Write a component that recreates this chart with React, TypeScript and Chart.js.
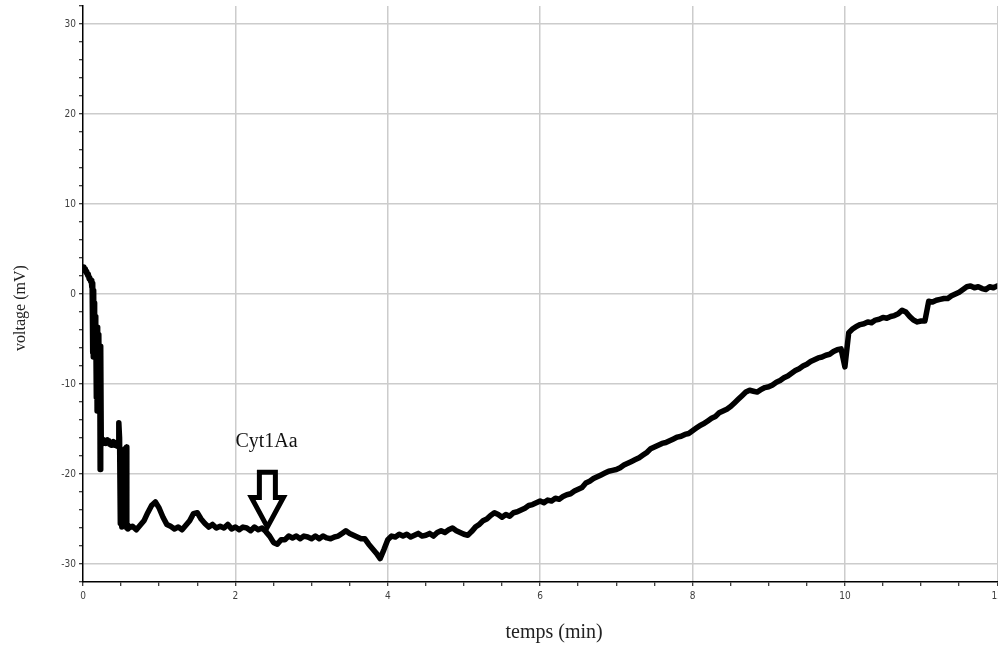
import { useEffect, useRef } from "react";
import { Chart, registerables } from "chart.js";

Chart.register(...registerables);

// Early transient right after the start of the recording (irregular sampling, minutes / mV)
const transientTimes = [
  0.0, 0.01, 0.02, 0.03, 0.04, 0.05, 0.06, 0.07, 0.08, 0.09,
  0.1, 0.11, 0.115, 0.12, 0.125, 0.13, 0.135, 0.14, 0.145, 0.15,
  0.155, 0.16, 0.165, 0.17, 0.175, 0.18, 0.185, 0.19, 0.195, 0.2,
  0.205, 0.21, 0.215, 0.22, 0.225, 0.23, 0.235, 0.24, 0.25, 0.26,
  0.27, 0.28, 0.29, 0.3, 0.31, 0.32, 0.33, 0.34, 0.35, 0.36,
  0.37, 0.38, 0.39, 0.4, 0.41, 0.42, 0.43, 0.44, 0.45, 0.46,
  0.47, 0.48, 0.49, 0.5, 0.51, 0.52, 0.53, 0.54, 0.55, 0.56,
  0.57, 0.575, 0.58, 0.59,
];
const transientVolts = [
  3.0, 2.8, 2.6, 2.8, 2.4, 2.5, 2.1, 2.2, 1.7, 1.8,
  1.4, 1.5, 0.8, 1.0, -6.5, 1.2, -7.0, 0.4, -6.8, -1.0,
  -7.0, -2.5, -6.6, -3.8, -11.5, -4.2, -13.0, -3.7, -12.6, -5.5,
  -13.0, -4.5, -12.2, -7.5, -19.5, -12.5, -5.8, -16.8, -16.4, -16.6,
  -16.2, -16.5, -16.3, -16.6, -16.4, -16.2, -16.5, -16.3, -16.7, -16.5,
  -16.8, -16.5, -16.7, -16.4, -16.8, -16.5, -16.7, -16.5, -16.9, -16.6,
  -14.3, -16.0, -25.5, -25.2, -25.9, -25.4, -20.0, -18.5, -17.2, -18.0,
  -17.0, -26.0, -25.7, -26.1,
];

// Slow drift, one reading every DRIFT_STEP minutes starting at DRIFT_START
const DRIFT_START = 0.6;
const DRIFT_STEP = 0.05;
const driftVolts = [
  -26.0, -25.8, -26.2, -25.7, -25.2, -24.3, -23.5, -23.1, -23.8, -24.8,
  -25.6, -25.8, -26.1, -25.9, -26.2, -25.7, -25.2, -24.4, -24.3, -25.0,
  -25.5, -25.9, -25.6, -26.0, -25.8, -26.0, -25.6, -26.1, -25.9, -26.2,
  -25.9, -26.0, -26.3, -25.9, -26.2, -26.0, -26.4, -26.9, -27.6, -27.8,
  -27.3, -27.3, -26.9, -27.1, -26.9, -27.2, -26.9, -27.0, -27.2, -26.9,
  -27.2, -26.9, -27.1, -27.2, -27.0, -26.9, -26.6, -26.3, -26.6, -26.8,
  -27.0, -27.2, -27.2, -27.8, -28.3, -28.8, -29.4, -28.4, -27.3, -26.9,
  -27.0, -26.7, -26.9, -26.7, -27.0, -26.8, -26.6, -26.9, -26.8, -26.6,
  -26.9, -26.5, -26.3, -26.5, -26.2, -26.0, -26.3, -26.5, -26.7, -26.8,
  -26.4, -25.9, -25.6, -25.2, -25.0, -24.6, -24.3, -24.5, -24.8, -24.5,
  -24.7, -24.3, -24.2, -24.0, -23.8, -23.5, -23.4, -23.2, -23.0, -23.2,
  -22.9, -23.0, -22.7, -22.8, -22.5, -22.3, -22.2, -21.9, -21.7, -21.5,
  -21.0, -20.8, -20.5, -20.3, -20.1, -19.9, -19.7, -19.6, -19.5, -19.3,
  -19.0, -18.8, -18.6, -18.4, -18.2, -17.9, -17.6, -17.2, -17.0, -16.8,
  -16.6, -16.5, -16.3, -16.1, -15.9, -15.8, -15.6, -15.5, -15.2, -14.9,
  -14.6, -14.4, -14.1, -13.8, -13.6, -13.2, -13.0, -12.8, -12.5, -12.1,
  -11.7, -11.3, -10.9, -10.7, -10.8, -10.9, -10.6, -10.4, -10.3, -10.1,
  -9.8, -9.6, -9.3, -9.1, -8.8, -8.5, -8.3, -8.0, -7.8, -7.5,
  -7.3, -7.1, -7.0, -6.8, -6.7, -6.4, -6.2, -6.1, -8.1, -4.3,
  -3.9, -3.6, -3.4, -3.3, -3.1, -3.2, -2.9, -2.8, -2.6, -2.7,
  -2.5, -2.4, -2.2, -1.8, -2.0, -2.5, -2.9, -3.1, -3.0, -3.0,
  -0.8, -0.9, -0.7, -0.6, -0.5, -0.5, -0.2, 0.0, 0.2, 0.5,
  0.8, 0.9, 0.7, 0.8, 0.6, 0.5, 0.8, 0.7, 0.9,
];

// Axis ranges
const X_MIN = 0;
const X_MAX = 12;
const Y_MIN = -32;
const Y_MAX = 32;

// Texts
const X_TITLE = "temps (min)";
const Y_TITLE = "voltage (mV)";

// Toxin addition marker
const TOXIN_LABEL = "Cyt1Aa";
const TOXIN_TIME = 2.42;
const ARROW_TOP_MV = -19.8;
const ARROW_HEAD_MV = -22.6;
const ARROW_TIP_MV = -25.9;
const LABEL_TIME = 2.0;
const LABEL_MV = -17.0;

const TICK_FONT = "'Liberation Sans Narrow', 'DejaVu Sans Condensed', sans-serif";
const SERIF = "'Liberation Serif', 'DejaVu Serif', serif";

const markerPlugin = {
  id: "toxinMarker",
  afterDatasetsDraw(chart: any) {
    const { ctx, scales } = chart;
    const xs = scales.x;
    const ys = scales.y;
    const cx = xs.getPixelForValue(TOXIN_TIME);
    const top = ys.getPixelForValue(ARROW_TOP_MV);
    const head = ys.getPixelForValue(ARROW_HEAD_MV);
    const tip = ys.getPixelForValue(ARROW_TIP_MV);
    const shaft = 8;
    const wing = 16;
    ctx.save();
    ctx.beginPath();
    ctx.moveTo(cx - shaft, top);
    ctx.lineTo(cx + shaft, top);
    ctx.lineTo(cx + shaft, head);
    ctx.lineTo(cx + wing, head);
    ctx.lineTo(cx, tip);
    ctx.lineTo(cx - wing, head);
    ctx.lineTo(cx - shaft, head);
    ctx.closePath();
    ctx.fillStyle = "#ffffff";
    ctx.fill();
    ctx.lineWidth = 5;
    ctx.lineJoin = "miter";
    ctx.strokeStyle = "#000000";
    ctx.stroke();

    ctx.fillStyle = "#111111";
    ctx.font = `20px ${SERIF}`;
    ctx.textAlign = "left";
    ctx.textBaseline = "alphabetic";
    ctx.fillText(TOXIN_LABEL, xs.getPixelForValue(LABEL_TIME), ys.getPixelForValue(LABEL_MV));
    ctx.restore();
  },
  afterDraw(chart: any) {
    const { ctx, chartArea } = chart;
    ctx.save();
    ctx.fillStyle = "#222222";
    ctx.textAlign = "center";
    ctx.textBaseline = "middle";
    ctx.font = `20px ${SERIF}`;
    ctx.fillText(X_TITLE, (chartArea.left + chartArea.right) / 2 + 14, chartArea.bottom + 51);
    ctx.translate(21, (chartArea.top + chartArea.bottom) / 2 + 14);
    ctx.rotate(-Math.PI / 2);
    ctx.font = `16px ${SERIF}`;
    ctx.fillText(Y_TITLE, 0, 0);
    ctx.restore();
  },
};

export default function App() {
  const canvasRef = useRef<HTMLCanvasElement | null>(null);

  useEffect(() => {
    if (!canvasRef.current) return;
    const points = [
      ...transientTimes.map((t, i) => ({ x: t, y: transientVolts[i] })),
      ...driftVolts.map((v, i) => ({ x: DRIFT_START + i * DRIFT_STEP, y: v })),
    ];
    const chart = new Chart(canvasRef.current, {
      type: "line",
      data: {
        datasets: [
          {
            data: points,
            borderColor: "#000000",
            borderWidth: 5.5,
            pointRadius: 0,
            tension: 0,
            borderJoinStyle: "round",
            borderCapStyle: "round",
          },
        ],
      },
      options: {
        animation: false,
        responsive: true,
        maintainAspectRatio: false,
        parsing: false,
        layout: { padding: { top: 0, left: 0, right: 0, bottom: 0 } },
        plugins: { legend: { display: false }, tooltip: { enabled: false } },
        scales: {
          x: {
            type: "linear",
            min: X_MIN,
            max: X_MAX,
            afterFit: (s: any) => {
              s.height = 64;
            },
            border: { display: true, color: "#000000", width: 1.5 },
            grid: {
              color: (c: any) =>
                c.tick && c.tick.value % 2 === 0 && c.tick.value !== 0 ? "#cccccc" : "rgba(0,0,0,0)",
              lineWidth: 1.5,
              drawTicks: true,
              tickColor: "#000000",
              tickLength: 4,
              tickWidth: 1,
            },
            ticks: {
              stepSize: 0.5,
              autoSkip: false,
              maxRotation: 0,
              padding: 4,
              color: "#404040",
              font: { family: TICK_FONT, size: 10 },
              callback: (v: any) => (Number(v) % 2 === 0 ? String(v) : ""),
            },
          },
          y: {
            type: "linear",
            min: Y_MIN,
            max: Y_MAX,
            afterFit: (s: any) => {
              s.width = 83;
            },
            border: { display: true, color: "#000000", width: 1.5 },
            grid: {
              color: (c: any) => (c.tick && c.tick.value % 10 === 0 ? "#cccccc" : "rgba(0,0,0,0)"),
              lineWidth: 1.5,
              drawTicks: true,
              tickColor: "#000000",
              tickLength: 4,
              tickWidth: 1,
            },
            ticks: {
              stepSize: 2,
              autoSkip: false,
              padding: 3,
              color: "#404040",
              font: { family: TICK_FONT, size: 10 },
              callback: (v: any) => (Number(v) % 10 === 0 ? String(v) : ""),
            },
          },
        },
      },
      plugins: [markerPlugin],
    } as any);
    return () => chart.destroy();
  }, []);

  return (
    <div
      style={{
        position: "fixed",
        left: 0,
        top: 0,
        width: 998,
        height: 646,
        overflow: "hidden",
        background: "#ffffff",
      }}
    >
      <div style={{ position: "relative", width: 1007, height: 649, marginTop: -3 }}>
        <canvas ref={canvasRef} />
      </div>
    </div>
  );
}
